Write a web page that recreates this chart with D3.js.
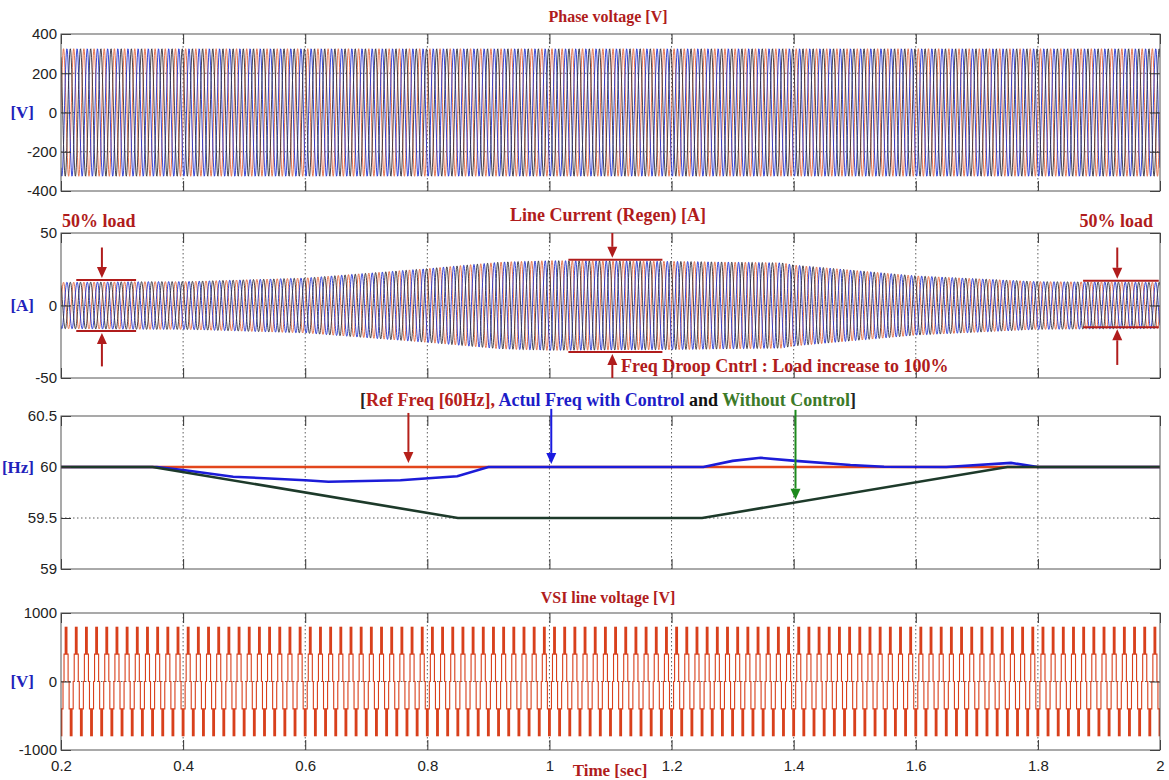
<!DOCTYPE html>
<html>
<head>
<meta charset="utf-8">
<script src="https://cdn.jsdelivr.net/npm/d3@7"></script>
<style>
  body { margin: 0; background: #fff; }
  svg { display: block; }
  .tick text { font-family: "Liberation Sans", Arial, sans-serif; font-size: 15px; fill: #222; }
</style>
</head>
<body>
<svg id="chart" width="1169" height="780"></svg>
<script>
// ---- data ----
const timeTicks = [0.2, 0.4, 0.6, 0.8, 1, 1.2, 1.4, 1.6, 1.8, 2];
const gridFreq = 60; // Hz, carrier of the three-phase waveforms
const phaseColors = ["#e2673f", "#2433cf", "#35303a"];

// Phase voltage
const phaseVoltTicks = [-400, -200, 0, 200, 400];
const phaseVoltPeak = 325;

// Line current envelope (peak amplitude, A)
const currentTicks = [-50, 0, 50];
const currentEnvTime = [0.2, 0.35, 0.4, 0.6, 0.8, 0.92, 1.0, 1.2, 1.38, 1.4, 1.6, 1.8, 2.0];
const currentEnvPeak = [16, 16.5, 16.5, 19, 25.5, 30, 31, 30.5, 29.5, 28, 20.5, 16.5, 16];

// Frequency
const freqTicks = [59, 59.5, 60, 60.5];
const refFreqTime = [0.2, 2.0];
const refFreqVal = [60, 60];
const ctrlFreqTime = [0.2, 0.357, 0.4, 0.482, 0.6, 0.638, 0.756, 0.802, 0.849, 0.9, 1.252, 1.30, 1.346, 1.403, 1.493, 1.548, 1.65, 1.756, 1.80, 2.0];
const ctrlFreqVal = [60, 60, 59.97, 59.905, 59.87, 59.855, 59.87, 59.89, 59.91, 60, 60, 60.06, 60.09, 60.06, 60.02, 60.003, 60.0, 60.04, 60.0, 60];
const noCtrlFreqTime = [0.2, 0.35, 0.85, 1.25, 1.75, 2.0];
const noCtrlFreqVal = [60, 60, 59.5, 59.5, 60, 60];

// VSI line voltage: one period of the stepped wave (phase 0 = positive pulse centre)
const vsiTicks = [-1000, 0, 1000];
const vsiFirstPeak = 0.2083;
const vsiStepPhase = [-0.2, 0.2, 0.3, 0.7, 0.8];
const vsiStepLevel = [400, 0, -400, 0];
const vsiPulseCentre = [0, 0.5];
const vsiPulseWidth = 0.28;
const vsiPulseLow = [400, -400];
const vsiPulseHigh = [800, -800];

// Annotations in panel 2 (time, A)
const bracketStart = [0.225, 1.031, 1.874];
const bracketEnd = [0.323, 1.185, 1.998];
const bracketTop = [17.6, 31.5, 17];
const bracketBottom = [-17.6, -32, -15];
const bracketArrowAt = [0.267, 1.103, 1.93];
const bracketArrowFromTop = [40, 50, 40];
const bracketArrowFromBottom = [-42, -50, -41];

// Annotations in panel 3 (time, Hz)
const freqArrowAt = [0.769, 1.003, 1.403];
const freqArrowFrom = [60.53, 60.57, 60.56];
const freqArrowTip = [60.04, 60.03, 59.68];
const freqArrowColors = ["#b5201a", "#1a1ae0", "#1d8a1d"];

// ---- layout ----
const svg = d3.select("#chart");
const left = 61, right = 1160;
const x = d3.scaleLinear().domain([0.2, 2]).range([left, right]);
const titleColor = "#b01c1c";
const serif = "'Liberation Serif', 'Times New Roman', serif";

const panels = [
  { top: 34, bottom: 191, domain: [-400, 400], ticks: phaseVoltTicks, unit: "[V]", title: "Phase voltage [V]", titleY: 22, titleSize: 16 },
  { top: 233, bottom: 378, domain: [-50, 50], ticks: currentTicks, unit: "[A]", title: "Line Current (Regen) [A]", titleY: 221, titleSize: 18 },
  { top: 416, bottom: 569, domain: [59, 60.5], ticks: freqTicks, unit: "[Hz]", title: null },
  { top: 613, bottom: 750, domain: [-1000, 1000], ticks: vsiTicks, unit: "[V]", title: "VSI line voltage [V]", titleY: 603, titleSize: 16 }
];

const fmt = d => String(+d.toFixed(1));

panels.forEach((p, i) => {
  p.y = d3.scaleLinear().domain(p.domain).range([p.bottom, p.top]);
  p.g = svg.append("g").attr("class", "panel-" + i);
  svg.append("clipPath").attr("id", "clip" + i)
    .append("rect").attr("x", left).attr("y", p.top).attr("width", right - left).attr("height", p.bottom - p.top);
  // grid sits under the traces
  const grid = p.g.append("g").attr("stroke", "#333").attr("stroke-width", 0.8).attr("stroke-dasharray", "1.5,2.5");
  grid.selectAll(".vg").data(timeTicks.slice(1, -1)).join("line")
    .attr("x1", d => x(d)).attr("x2", d => x(d)).attr("y1", p.top).attr("y2", p.bottom);
  grid.selectAll(".hg").data(p.ticks.slice(1, -1)).join("line")
    .attr("x1", left).attr("x2", right).attr("y1", d => p.y(d)).attr("y2", d => p.y(d));
  p.plot = p.g.append("g").attr("clip-path", `url(#clip${i})`);
});

function drawFrame(p, showXLabels) {
  const g = p.g;
  const y = p.y;

  // inward ticks on all four sides
  const axL = g.append("g").attr("transform", `translate(${left},0)`)
    .call(d3.axisLeft(y).tickValues(p.ticks).tickSizeInner(-10).tickSizeOuter(0).tickPadding(4).tickFormat(fmt));
  const axR = g.append("g").attr("transform", `translate(${right},0)`)
    .call(d3.axisRight(y).tickValues(p.ticks).tickSizeInner(-10).tickSizeOuter(0).tickFormat(""));
  const axT = g.append("g").attr("transform", `translate(0,${p.top})`)
    .call(d3.axisTop(x).tickValues(timeTicks).tickSizeInner(-10).tickSizeOuter(0).tickFormat(""));
  const axB = g.append("g").attr("transform", `translate(0,${p.bottom})`)
    .call(d3.axisBottom(x).tickValues(timeTicks).tickSizeInner(-10).tickSizeOuter(0).tickPadding(7)
      .tickFormat(showXLabels ? fmt : ""));
  [axL, axR, axT, axB].forEach(a => {
    a.select(".domain").remove();
    a.selectAll(".tick line").attr("stroke", "#333");
  });
  axB.selectAll(".tick text").attr("dy", "0.95em");

  g.append("rect").attr("x", left).attr("y", p.top).attr("width", right - left).attr("height", p.bottom - p.top)
    .attr("fill", "none").attr("stroke", "#555").attr("stroke-width", 1);

  // unit label
  g.append("text").attr("x", 34).attr("y", y(p.ticks.includes(60) ? 60 : 0)).attr("dy", "0.35em")
    .attr("text-anchor", "end").style("font-family", serif).style("font-weight", "bold")
    .style("font-size", "17px").style("fill", "#2222bb").text(p.unit);

  if (p.title) {
    g.append("text").attr("x", 608).attr("y", p.titleY).attr("text-anchor", "middle")
      .style("font-family", serif).style("font-weight", "bold").style("font-size", p.titleSize + "px")
      .style("fill", titleColor).text(p.title);
  }
}

function arrow(g, x1, y1, x2, y2, color) {
  const ang = Math.atan2(y2 - y1, x2 - x1);
  const L = 11, W = 5;
  const bx = x2 - L * Math.cos(ang), by = y2 - L * Math.sin(ang);
  g.append("line").attr("x1", x1).attr("y1", y1).attr("x2", bx).attr("y2", by)
    .attr("stroke", color).attr("stroke-width", 2);
  g.append("path")
    .attr("d", `M${x2},${y2}L${bx + W * Math.sin(ang)},${by - W * Math.cos(ang)}L${bx - W * Math.sin(ang)},${by + W * Math.cos(ang)}Z`)
    .attr("fill", color);
}

// ---- three-phase waveforms (panel 1 and 2) ----
const samplesPerCycle = 40;
const nSamples = Math.round((2 - 0.2) * gridFreq * samplesPerCycle);
const tSamples = d3.range(nSamples + 1).map(i => 0.2 + i / (gridFreq * samplesPerCycle));

function drawThreePhase(p, amp) {
  phaseColors.forEach((c, k) => {
    const line = d3.line()
      .x(t => x(t))
      .y(t => p.y(amp(t) * Math.sin(2 * Math.PI * gridFreq * t - 2 * Math.PI * k / 3)));
    p.plot.append("path").attr("d", line(tSamples))
      .attr("fill", "none").attr("stroke", c).attr("stroke-width", 0.9);
  });
}

drawThreePhase(panels[0], () => phaseVoltPeak);
const currentEnv = d3.scaleLinear().domain(currentEnvTime).range(currentEnvPeak);
drawThreePhase(panels[1], t => currentEnv(t));

// ---- frequency lines (panel 3) ----
function freqLine(times, vals, color) {
  const p = panels[2];
  const line = d3.line().x(d => x(d[0])).y(d => p.y(d[1]));
  p.plot.append("path").attr("d", line(d3.zip(times, vals)))
    .attr("fill", "none").attr("stroke", color).attr("stroke-width", 2.6);
}
freqLine(refFreqTime, refFreqVal, "#e2461c");
freqLine(ctrlFreqTime, ctrlFreqVal, "#1c1cd8");
freqLine(noCtrlFreqTime, noCtrlFreqVal, "#1d3a2a");

// ---- VSI line voltage (panel 4) ----
{
  const p = panels[3];
  const period = 1 / gridFreq;
  const cycles = d3.range(-2, Math.ceil((2 - 0.2) / period) + 2);
  const pts = [];
  cycles.forEach(c => {
    const t0 = vsiFirstPeak + c * period;
    vsiStepLevel.forEach((lv, j) => {
      pts.push([t0 + vsiStepPhase[j] * period, lv]);
      pts.push([t0 + vsiStepPhase[j + 1] * period, lv]);
    });
  });
  p.plot.append("path").attr("d", d3.line().x(d => x(d[0])).y(d => p.y(d[1]))(pts))
    .attr("fill", "none").attr("stroke", "#d8401c").attr("stroke-width", 1.1);
  const pulses = [];
  cycles.forEach(c => vsiPulseCentre.forEach((pc, j) => {
    pulses.push({ t: vsiFirstPeak + (c + pc) * period, lo: vsiPulseLow[j], hi: vsiPulseHigh[j] });
  }));
  p.plot.selectAll(".pulse").data(pulses).join("rect")
    .attr("x", d => x(d.t - vsiPulseWidth * period / 2))
    .attr("width", x(0.2 + vsiPulseWidth * period) - x(0.2))
    .attr("y", d => p.y(Math.max(d.lo, d.hi)))
    .attr("height", d => Math.abs(p.y(d.lo) - p.y(d.hi)))
    .attr("fill", "#d8401c");
}

panels.forEach((p, i) => drawFrame(p, i === 3));

// ---- annotations ----
{
  const p = panels[1];
  const a = svg.append("g");
  bracketStart.forEach((s, i) => {
    [bracketTop[i], bracketBottom[i]].forEach(v => {
      a.append("line").attr("x1", x(s)).attr("x2", x(bracketEnd[i]))
        .attr("y1", p.y(v)).attr("y2", p.y(v)).attr("stroke", titleColor).attr("stroke-width", 2);
    });
    arrow(a, x(bracketArrowAt[i]), p.y(bracketArrowFromTop[i]), x(bracketArrowAt[i]), p.y(bracketTop[i]) - 2, titleColor);
    arrow(a, x(bracketArrowAt[i]), p.y(bracketArrowFromBottom[i]), x(bracketArrowAt[i]), p.y(bracketBottom[i]) + 2, titleColor);
  });
  const lab = { "font-family": serif, "font-weight": "bold", "font-size": "18px", fill: titleColor };
  const t1 = a.append("text").attr("x", 62).attr("y", 227).text("50% load");
  const t2 = a.append("text").attr("x", 1153).attr("y", 227).attr("text-anchor", "end").text("50% load");
  const t3 = a.append("text").attr("x", 621).attr("y", 372).text("Freq Droop Cntrl : Load increase to 100%");
  [t1, t2, t3].forEach(t => Object.entries(lab).forEach(([k, v]) => t.style(k, v)));
}

{
  const p = panels[2];
  const a = svg.append("g");
  freqArrowAt.forEach((t, i) => {
    arrow(a, x(t), p.y(freqArrowFrom[i]), x(t), p.y(freqArrowTip[i]), freqArrowColors[i]);
  });
  const title = a.append("text").attr("x", 608).attr("y", 406).attr("text-anchor", "middle")
    .style("font-family", serif).style("font-weight", "bold").style("font-size", "18px");
  [["[", "#222"], ["Ref Freq [60Hz],", "#b5201a"], [" Actul Freq with Control", "#1c1cc8"],
   [" and ", "#111"], ["Without Control", "#3c7a28"], ["]", "#222"]]
    .forEach(([s, c]) => title.append("tspan").style("fill", c).text(s));
}

svg.append("text").attr("x", 610).attr("y", 776).attr("text-anchor", "middle")
  .style("font-family", serif).style("font-weight", "bold").style("font-size", "17px")
  .style("fill", titleColor).text("Time [sec]");
</script>
</body>
</html>
